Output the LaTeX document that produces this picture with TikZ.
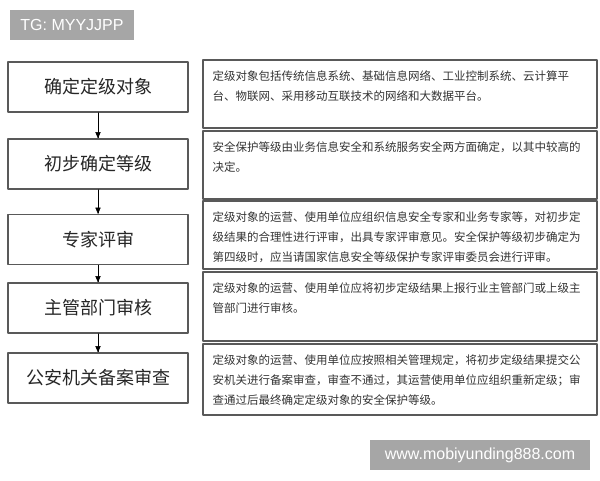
\documentclass[tikz,border=0pt]{standalone}
\usepackage{fontspec}
\setmainfont{Liberation Sans}
\newfontfamily\cjkfont{Noto Sans CJK SC}
\usetikzlibrary{arrows}
\usetikzlibrary{positioning}
\definecolor{boxgray}{HTML}{595959}
\definecolor{markgray}{HTML}{A6A6A6}
\definecolor{txtgray}{HTML}{333333}
\tikzset{
  stepbox/.style={draw=boxgray,line width=1.2pt,minimum width=180pt,minimum height=50pt,inner sep=0pt,text=black!85,font=\cjkfont\fontsize{18}{18}\selectfont},
  descbox/.style={draw=boxgray,line width=1.2pt,minimum width=394pt,inner sep=0pt},
  desctext/.style={anchor=north west,inner sep=0pt,align=left,text=txtgray,font=\cjkfont\fontsize{11.5}{20}\selectfont},
  markbox/.style={fill=markgray,text=white,inner sep=0pt,font=\fontsize{16}{16}\selectfont}
}

\begin{document}
\begin{tikzpicture}[line cap=round,line join=round,>=triangle 45,x=1pt,y=-1pt]
\useasboundingbox (0,0) rectangle (600,480);
\node [markbox,minimum width=124pt,minimum height=30pt] (tgmark) at (72,25) {TG: MYYJJPP};
\node [markbox,minimum width=220pt,minimum height=30pt] (webmark) at (480,455) {www.mobiyunding888.com};
% steps
\node [stepbox] (dingji) at (98,87) {确定定级对象};
\node [stepbox] (chubu) at (98,164) {初步确定等级};
\node [stepbox] (pingshen) at (98,239.5) {专家评审};
\node [stepbox] (shenhe) at (98,308) {主管部门审核};
\node [stepbox] (beian) at (98,378) {公安机关备案审查};
\draw [->] (dingji) -- (chubu);
\draw [->] (chubu) -- (pingshen);
\draw [->] (pingshen) -- (shenhe);
\draw [->] (shenhe) -- (beian);
% descriptions
\node [descbox,minimum height=68pt] (desca) at (400,94) {};
\node [descbox,minimum height=68pt] (descb) at (400,165) {};
\node [descbox,minimum height=68pt] (descc) at (400,235) {};
\node [descbox,minimum height=69pt] (descd) at (400,306.5) {};
\node [descbox,minimum height=71pt] (desce) at (400,379.5) {};
\node [desctext] (txta) at ([shift={(10,11.5)}]desca.north west) {定级对象包括传统信息系统、基础信息网络、工业控制系统、云计算平\\台、物联网、采用移动互联技术的网络和大数据平台。};
\node [desctext] (txtb) at ([shift={(10,11.5)}]descb.north west) {安全保护等级由业务信息安全和系统服务安全两方面确定，以其中较高的\\决定。};
\node [desctext] (txtc) at ([shift={(10,11.5)}]descc.north west) {定级对象的运营、使用单位应组织信息安全专家和业务专家等，对初步定\\级结果的合理性进行评审，出具专家评审意见。安全保护等级初步确定为\\第四级时，应当请国家信息安全等级保护专家评审委员会进行评审。};
\node [desctext] (txtd) at ([shift={(10,11.5)}]descd.north west) {定级对象的运营、使用单位应将初步定级结果上报行业主管部门或上级主\\管部门进行审核。};
\node [desctext] (txte) at ([shift={(10,11.5)}]desce.north west) {定级对象的运营、使用单位应按照相关管理规定，将初步定级结果提交公\\安机关进行备案审查，审查不通过，其运营使用单位应组织重新定级；审\\查通过后最终确定定级对象的安全保护等级。};
\end{tikzpicture}
\end{document}
